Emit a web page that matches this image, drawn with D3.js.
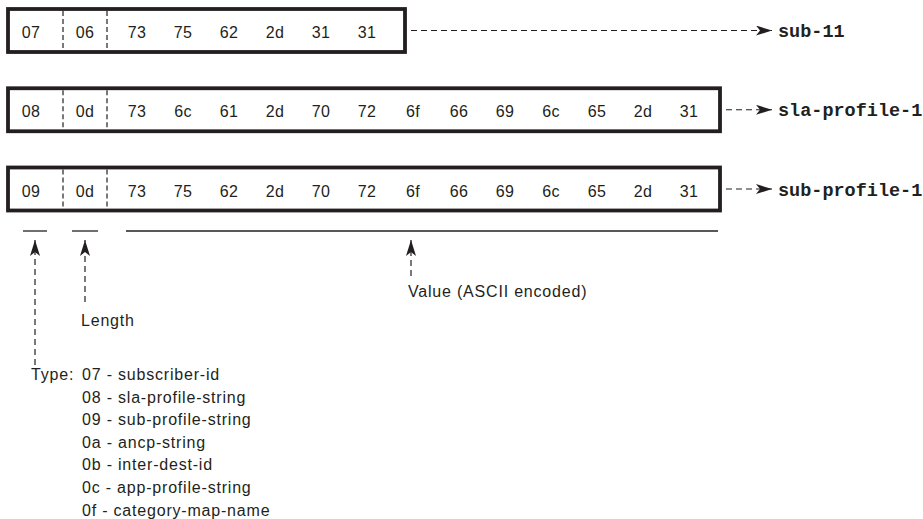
<!DOCTYPE html>
<style>
body { margin: 0; background: #fff; }
text { font-family: "Liberation Sans", Arial, sans-serif; font-size: 16px; letter-spacing: 0.8px; fill: #231f20; }
text.cell { letter-spacing: 0.3px; }
text.label { font-family: "Courier New", "Liberation Mono", monospace; font-weight: bold; font-size: 18.5px; letter-spacing: 0; }
</style>
<svg width="923" height="519"></svg>
<script src="https://d3js.org/d3.v7.min.js"></script>
<script>

// the three TLVs: type, length, value bytes, decoded name
var types = ["07", "08", "09"];
var lengths = ["06", "0d", "0d"];
var values = [
  ["73", "75", "62", "2d", "31", "31"],
  ["73", "6c", "61", "2d", "70", "72", "6f", "66", "69", "6c", "65", "2d", "31"],
  ["73", "75", "62", "2d", "70", "72", "6f", "66", "69", "6c", "65", "2d", "31"]
];
var names = ["sub-11", "sla-profile-1", "sub-profile-1"];

var typeList = [
  "07 - subscriber-id",
  "08 - sla-profile-string",
  "09 - sub-profile-string",
  "0a - ancp-string",
  "0b - inter-dest-id",
  "0c - app-profile-string",
  "0f - category-map-name"
];

var svg = d3.select("svg");
var ink = "#231f20";

// value byte index -> x center
var x = d3.scaleLinear().domain([0, 1]).range([137, 183]);
// row index -> box center y
var y = d3.scalePoint().domain([0, 1, 2]).range([30.5, 189]);

var boxH = 43, boxL = 8, labelX = 778, arrowTip = 772;

svg.append("defs").append("marker")
    .attr("id", "head")
    .attr("viewBox", "0 0 16 10")
    .attr("refX", 16).attr("refY", 5)
    .attr("markerWidth", 16).attr("markerHeight", 10)
    .attr("markerUnits", "userSpaceOnUse")
    .attr("orient", "auto")
  .append("path")
    .attr("d", "M0,0 L16,5 L0,10 L4,5 Z")
    .attr("fill", ink);

var rows = svg.selectAll("g.row")
  .data(types.map(function(t, i) { return {i: i, type: t, len: lengths[i], vals: values[i], name: names[i]}; }))
  .enter().append("g")
    .attr("class", "row")
    .attr("transform", function(d) { return "translate(0," + y(d.i) + ")"; });

rows.each(function(d) {
  var g = d3.select(this);
  var right = Math.max(x(d.vals.length - 1) + 31, 405);

  g.append("rect")
    .attr("x", boxL).attr("y", -boxH / 2)
    .attr("width", right - boxL).attr("height", boxH)
    .attr("fill", "none").attr("stroke", ink).attr("stroke-width", 3.8);

  [63, 107].forEach(function(dx) {
    g.append("line")
      .attr("x1", dx).attr("x2", dx)
      .attr("y1", -boxH / 2 + 2).attr("y2", boxH / 2 - 2)
      .attr("stroke", ink).attr("stroke-width", 1.2)
      .attr("stroke-dasharray", "5,3");
  });

  g.append("text").attr("class", "cell").attr("x", 31).attr("y", 7.5).attr("text-anchor", "middle").text(d.type);
  g.append("text").attr("class", "cell").attr("x", 85).attr("y", 7.5).attr("text-anchor", "middle").text(d.len);

  g.selectAll("text.val")
    .data(d.vals)
    .enter().append("text")
      .attr("class", "val cell")
      .attr("x", function(v, k) { return x(k); })
      .attr("y", 7.5)
      .attr("text-anchor", "middle")
      .text(function(v) { return v; });

  g.append("line")
    .attr("x1", right + 6).attr("x2", arrowTip)
    .attr("y1", 0).attr("y2", 0)
    .attr("stroke", ink).attr("stroke-width", 1.2)
    .attr("stroke-dasharray", "6,4")
    .attr("marker-end", "url(#head)");

  g.append("text")
    .attr("class", "label")
    .attr("x", labelX).attr("y", 6.5)
    .text(d.name);
});

// brackets under the last box
var underY = 231;
var brackets = [
  {x1: 23, x2: 47, ax: 35, bottom: 365},
  {x1: 72, x2: 98, ax: 85, bottom: 302},
  {x1: 126, x2: 718, ax: 411, bottom: 276}
];

brackets.forEach(function(b) {
  svg.append("line")
    .attr("x1", b.x1).attr("x2", b.x2)
    .attr("y1", underY).attr("y2", underY)
    .attr("stroke", ink).attr("stroke-width", 1.3);
  svg.append("line")
    .attr("x1", b.ax).attr("x2", b.ax)
    .attr("y1", b.bottom).attr("y2", 240)
    .attr("stroke", ink).attr("stroke-width", 1.2)
    .attr("stroke-dasharray", "6,4")
    .attr("marker-end", "url(#head)");
});

svg.append("text").attr("x", 81).attr("y", 326).text("Length");
svg.append("text").attr("x", 408).attr("y", 297).text("Value (ASCII encoded)");

svg.append("text").attr("x", 31).attr("y", 380).text("Type:");
svg.selectAll("text.type")
  .data(typeList)
  .enter().append("text")
    .attr("class", "type")
    .attr("x", 82)
    .attr("y", function(t, i) { return 380 + i * 22.6; })
    .text(function(t) { return t; });

</script>
